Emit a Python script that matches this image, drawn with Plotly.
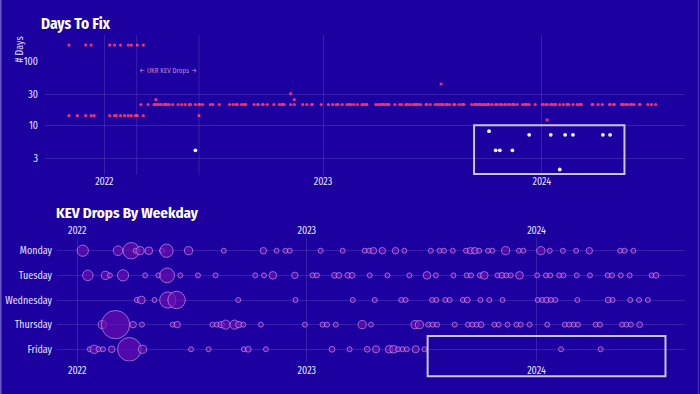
import plotly.graph_objects as go

# ---------------- DATA ----------------
weekdays = ["Monday", "Tuesday", "Wednesday", "Thursday", "Friday"]
year_ticks = ["2022-01-01", "2023-01-01", "2024-01-01"]
year_labels = ["2022", "2023", "2024"]

monday_dates = ["2022-01-10", "2022-03-07", "2022-03-28", "2022-04-04", "2022-04-11", "2022-04-25",
                "2022-05-16", "2022-05-23", "2022-06-27", "2022-08-22", "2022-10-24", "2022-11-14",
                "2022-11-28", "2022-12-05", "2023-01-23", "2023-02-27", "2023-04-03", "2023-04-10",
                "2023-04-17", "2023-05-01", "2023-05-22", "2023-06-05", "2023-07-17", "2023-07-31",
                "2023-08-07", "2023-08-21", "2023-09-11", "2023-09-18", "2023-09-25", "2023-10-02",
                "2023-10-16", "2023-10-23", "2023-11-13", "2023-12-04", "2023-12-11", "2024-01-08",
                "2024-01-22", "2024-02-12", "2024-03-04", "2024-03-25", "2024-05-13", "2024-05-20",
                "2024-06-03"]
monday_counts = [15, 11, 32, 3, 8, 7, 2, 21, 8, 2, 5, 2, 2, 3, 2, 2, 2, 3, 5, 5, 5, 3, 2, 2,
                 2, 2, 3, 5, 5, 2, 2, 2, 8, 2, 3, 8, 2, 2, 2, 5, 2, 3, 2]

tuesday_dates = ["2022-01-18", "2022-02-15", "2022-02-22", "2022-03-15", "2022-04-19", "2022-05-10",
                 "2022-05-24", "2022-06-14", "2022-07-12", "2022-08-09", "2022-10-11", "2022-10-25",
                 "2022-11-08", "2022-12-13", "2023-01-10", "2023-01-17", "2023-02-14", "2023-02-21",
                 "2023-03-07", "2023-03-14", "2023-04-11", "2023-05-09", "2023-06-13", "2023-07-11",
                 "2023-07-25", "2023-08-22", "2023-09-12", "2023-09-19", "2023-10-03", "2023-10-10",
                 "2023-10-31", "2023-11-07", "2023-11-14", "2023-11-21", "2023-12-05", "2024-01-02",
                 "2024-01-16", "2024-01-23", "2024-02-06", "2024-02-13", "2024-03-05", "2024-03-26",
                 "2024-04-23", "2024-04-30", "2024-05-14", "2024-05-28", "2024-07-02", "2024-07-09"]
tuesday_counts = [13, 8, 3, 15, 2, 2, 26, 2, 2, 2, 2, 2, 7, 5, 3, 3, 4, 4, 4, 4, 2, 2, 2, 7,
                  2, 2, 2, 2, 2, 7, 2, 4, 2, 2, 7, 2, 2, 2, 3, 3, 2, 2, 2, 2, 3, 2, 2, 4]

wednesday_dates = ["2022-04-06", "2022-04-13", "2022-05-04", "2022-05-25", "2022-06-08", "2022-09-14",
                   "2022-12-14", "2023-03-15", "2023-04-19", "2023-05-31", "2023-06-07", "2023-07-19",
                   "2023-07-26", "2023-08-09", "2023-08-16", "2023-09-06", "2023-09-13", "2023-10-04",
                   "2023-10-18", "2023-11-08", "2024-01-03", "2024-01-10", "2024-01-17", "2024-01-24",
                   "2024-01-31", "2024-03-06", "2024-04-24", "2024-05-01", "2024-05-29", "2024-06-12",
                   "2024-06-26"]
wednesday_counts = [2, 7, 3, 31, 36, 2, 1, 2, 2, 2, 2, 2, 2, 2, 2, 2, 4, 3, 2, 2, 3, 3, 4, 2,
                    2, 2, 4, 2, 2, 3, 3]

thursday_dates = ["2022-02-10", "2022-03-03", "2022-03-31", "2022-04-14", "2022-06-02", "2022-06-09",
                  "2022-08-04", "2022-08-11", "2022-08-18", "2022-08-25", "2022-09-08", "2022-09-15",
                  "2022-09-22", "2022-10-20", "2022-12-29", "2023-01-26", "2023-02-02", "2023-02-16",
                  "2023-03-30", "2023-04-13", "2023-06-22", "2023-06-29", "2023-07-13", "2023-07-20",
                  "2023-07-27", "2023-08-24", "2023-09-14", "2023-09-21", "2023-09-28", "2023-10-05",
                  "2023-10-26", "2023-11-02", "2023-11-16", "2023-11-30", "2023-12-07", "2023-12-21",
                  "2024-01-18", "2024-02-15", "2024-02-22", "2024-02-29", "2024-03-07", "2024-04-04",
                  "2024-04-11", "2024-05-16", "2024-05-23", "2024-05-30", "2024-06-13"]
thursday_counts = [8, 95, 5, 2, 2, 5, 2, 2, 5, 10, 10, 5, 2, 2, 2, 2, 3, 2, 8, 2, 8, 8, 2, 2,
                   2, 2, 2, 2, 2, 4, 2, 2, 2, 2, 3, 2, 2, 2, 2, 2, 2, 3, 3, 3, 2, 3, 4]

friday_dates = ["2022-01-21", "2022-01-28", "2022-02-04", "2022-02-11", "2022-02-25", "2022-03-25",
                "2022-04-15", "2022-07-01", "2022-07-29", "2022-09-23", "2022-09-30", "2022-10-28",
                "2023-02-10", "2023-03-10", "2023-04-07", "2023-04-21", "2023-05-12", "2023-05-19",
                "2023-05-26", "2023-06-02", "2023-06-09", "2023-06-23", "2023-07-07", "2024-02-09",
                "2024-04-12"]
friday_counts = [3, 8, 2, 2, 5, 66, 8, 2, 2, 2, 4, 2, 4, 2, 4, 6, 7, 7, 2, 2, 2, 6, 2, 1, 1]

# Days to fix (top chart)
due14_dates = ["2021-11-03", "2021-11-17", "2021-12-01", "2021-12-10", "2021-12-15", "2022-01-10",
               "2022-01-18", "2022-01-21", "2022-01-28", "2022-02-04", "2022-02-10", "2022-02-15",
               "2022-02-22", "2022-02-25", "2022-03-07", "2022-06-08"]
due180_dates = ["2021-11-03", "2021-12-01", "2021-12-10", "2022-01-10", "2022-01-18", "2022-01-28",
                "2022-02-10", "2022-02-15", "2022-02-25", "2022-03-07"]
other_red_dates = ["2022-03-28", "2022-11-08", "2022-11-14", "2023-07-17", "2024-01-10"]
other_red_days = [25, 31, 25, 44, 12]
short_dates = ["2022-06-02", "2023-10-05", "2023-10-16", "2023-10-23", "2023-11-13", "2023-12-11",
               "2024-01-16", "2024-01-31", "2024-02-09", "2024-02-22", "2024-04-12", "2024-04-24"]
short_days = [4, 8, 4, 4, 4, 7, 7, 2, 7, 7, 7, 7]
standard_due = 21
no21_dates = ["2022-03-07", "2024-02-09", "2024-04-12"]

ukr_start, ukr_end = "2022-02-24", "2022-06-08"

# ---------------- BUILD ----------------
all_drops = sorted(monday_dates + tuesday_dates + wednesday_dates + thursday_dates + friday_dates)
due21_dates = [d for d in all_drops if d >= "2022-03-03" and d not in no21_dates]

red_x = due21_dates + due14_dates + due180_dates + other_red_dates
red_y = [standard_due] * len(due21_dates) + [14] * len(due14_dates) + [180] * len(due180_dates) + other_red_days

bx, by, bs = [], [], []
for name, ds, cs in zip(weekdays,
                        [monday_dates, tuesday_dates, wednesday_dates, thursday_dates, friday_dates],
                        [monday_counts, tuesday_counts, wednesday_counts, thursday_counts, friday_counts]):
    bx += ds
    by += [name] * len(ds)
    bs += cs

BG = "#1c00a0"
GRID = "rgba(255,255,255,0.12)"
TXT = "#e4e2ff"
FONT = "Fira Sans Condensed, Roboto Condensed, sans-serif"
H = 394.0
W = 700.0


def py(p):
    return (H - p) / H


fig = go.Figure()
fig.add_trace(go.Scatter(x=red_x, y=red_y, mode="markers", xaxis="x", yaxis="y",
                         marker=dict(color="#ea3370", size=3.2, line=dict(width=0)),
                         hoverinfo="skip", showlegend=False))
fig.add_trace(go.Scatter(x=short_dates, y=short_days, mode="markers", xaxis="x", yaxis="y",
                         marker=dict(color="#f4f2ff", size=3.8, line=dict(width=0)),
                         hoverinfo="skip", showlegend=False))
fig.add_trace(go.Scatter(x=[None], y=[None], mode="markers", xaxis="x", yaxis="y3",
                         hoverinfo="skip", showlegend=False))
fig.add_trace(go.Scatter(x=bx, y=by, mode="markers", xaxis="x2", yaxis="y2",
                         marker=dict(size=bs, sizemode="area", sizeref=95 / 20.0 ** 2, sizemin=2.5,
                                     color="#6a0eb0",
                                     line=dict(color="#dba6ee", width=0.9)),
                         hoverinfo="skip", showlegend=False))
fig.add_trace(go.Scatter(x=[None], y=[None], mode="markers", xaxis="x3", yaxis="y2",
                         hoverinfo="skip", showlegend=False))

tickfont = dict(family=FONT, size=10, color=TXT)

fig.update_layout(
    width=700, height=394,
    margin=dict(l=0, r=0, t=0, b=0),
    paper_bgcolor=BG, plot_bgcolor=BG,
    hovermode=False,
    font=dict(family=FONT, color=TXT),
    xaxis=dict(domain=[45 / W, 685 / W], anchor="y", type="date",
               range=["2021-09-24", "2024-08-27"],
               tickvals=year_ticks, ticktext=year_labels, tickfont=tickfont,
               showgrid=True, gridcolor=GRID, gridwidth=1, zeroline=False, showline=False,
               ticks="", ticklabelstandoff=-1),
    yaxis=dict(domain=[py(175), py(35)], anchor="x", type="log", range=[0.215, 2.413],
               tickvals=[3, 10, 30], showticklabels=False,
               showgrid=True, gridcolor=GRID, zeroline=False, showline=False, ticks=""),
    yaxis3=dict(overlaying="y", anchor="x", side="left", type="log", range=[0.215, 2.413],
                tickvals=[3, 10, 30, 100], ticktext=["3", "10", "30", "100"], tickfont=tickfont,
                showgrid=False, zeroline=False, showline=False, ticks="", ticklabelstandoff=6),
    xaxis2=dict(domain=[57 / W, 685 / W], anchor="y2", type="date",
                range=["2021-11-30", "2024-08-24"],
                tickvals=year_ticks, ticktext=year_labels, tickfont=tickfont,
                showgrid=True, gridcolor=GRID, zeroline=False, showline=False, ticks="",
                ticklabelstandoff=1),
    xaxis3=dict(overlaying="x2", anchor="y2", side="top", type="date",
                range=["2021-11-30", "2024-08-24"],
                tickvals=year_ticks, ticktext=year_labels, tickfont=tickfont,
                showgrid=False, zeroline=False, showline=False, ticks="", ticklabelstandoff=1),
    yaxis2=dict(domain=[py(361.6), py(238.4)], anchor="x2", type="category",
                categoryorder="array", categoryarray=weekdays, range=[4.5, -0.5],
                tickfont=tickfont, showgrid=True, gridcolor=GRID, zeroline=False,
                showline=False, ticks="", ticklabelstandoff=4),
    shapes=[
        dict(type="line", xref="x", yref="paper", x0=ukr_start, x1=ukr_start, y0=py(175), y1=py(35),
             line=dict(color=GRID, width=1)),
        dict(type="line", xref="x", yref="paper", x0=ukr_end, x1=ukr_end, y0=py(175), y1=py(35),
             line=dict(color=GRID, width=1)),
        dict(type="rect", xref="x", yref="paper", x0="2023-09-10", x1="2024-05-18",
             y0=py(174), y1=py(125.3), line=dict(color="#c9c7e0", width=2)),
        dict(type="rect", xref="x2", yref="paper", x0="2023-07-12", x1="2024-07-24",
             y0=py(376.3), y1=py(336), line=dict(color="#c9c7e0", width=2)),
        dict(type="line", xref="paper", yref="paper", x0=0.8 / W, x1=0.8 / W, y0=0, y1=1,
             line=dict(color="rgba(200,195,255,0.45)", width=1.5)),
        dict(type="line", xref="paper", yref="paper", x0=698.3 / W, x1=698.3 / W, y0=0, y1=1,
             line=dict(color="rgba(200,195,255,0.3)", width=1)),
    ],
    annotations=[
        dict(text="<b>Days To Fix</b>", xref="paper", yref="paper", x=39 / W, y=py(24.5),
             xanchor="left", yanchor="middle", showarrow=False,
             font=dict(family=FONT, size=15.3, color="#ffffff")),
        dict(text="# Days", xref="paper", yref="paper", x=19 / W, y=py(49.5), textangle=-90,
             xanchor="center", yanchor="middle", showarrow=False,
             font=dict(family=FONT, size=10, color=TXT)),
        dict(text="\u2190 UKR KEV Drops \u2192", xref="x", yref="y", x="2022-04-17", y=1.85,
             showarrow=False, font=dict(family=FONT, size=7, color="#b58cc8")),
        dict(text="<b>KEV Drops By Weekday</b>", xref="paper", yref="paper", x=54 / W, y=py(213),
             xanchor="left", yanchor="middle", showarrow=False,
             font=dict(family=FONT, size=15, color="#ffffff")),
    ],
)

fig.write_html("out.html", config={"displayModeBar": False},
               post_script="document.body.style.margin='0px';")
